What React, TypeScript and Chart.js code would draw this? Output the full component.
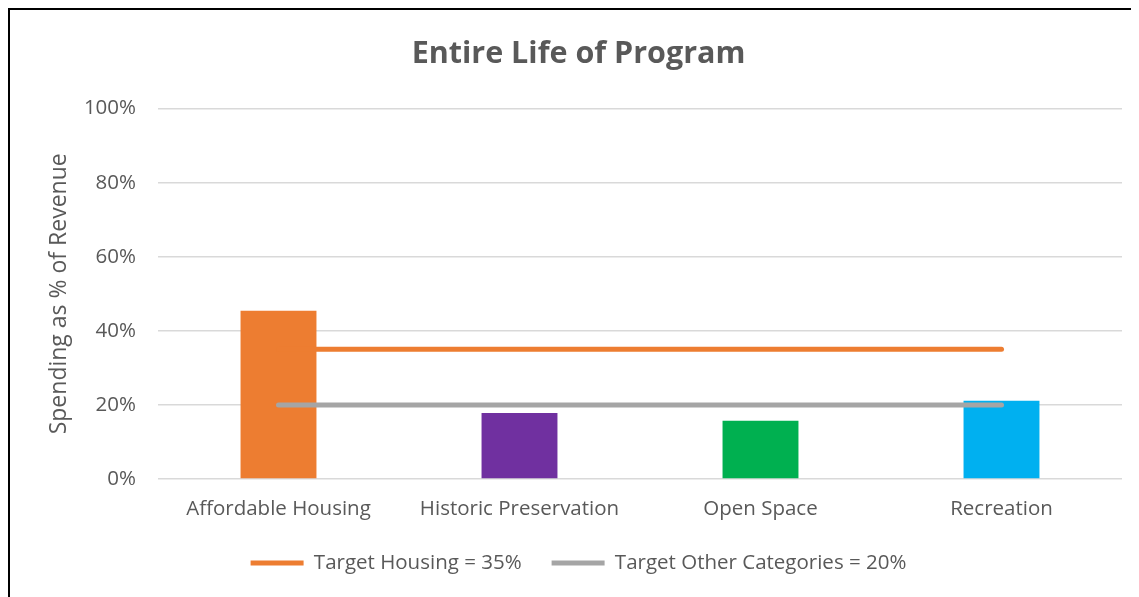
import React, { useEffect, useRef } from "react";
import { Chart, registerables } from "chart.js";

Chart.register(...registerables);

const categories = ["Affordable Housing", "Historic Preservation", "Open Space", "Recreation"];
const spending = [45.4, 17.8, 15.7, 21.1];
const barColors = ["#ED7D31", "#7030A0", "#00B050", "#00B0F0"];
const targetHousing = [35, 35, 35, 35];
const targetOther = [20, 20, 20, 20];
const titleText = "Entire Life of Program";
const yTitle = "Spending as % of Revenue";
const housingLabel = "Target Housing = 35%";
const otherLabel = "Target Other Categories = 20%";

const FONT = "'Open Sans', sans-serif";
const TEXT = "#595959";

export default function App() {
  const ref = useRef<HTMLCanvasElement>(null);
  useEffect(() => {
    if (!ref.current) return;
    const chart = new Chart(ref.current, {
      type: "bar",
      data: {
        labels: categories,
        datasets: [
          {
            type: "line",
            label: housingLabel,
            data: targetHousing,
            borderColor: "#ED7D31",
            backgroundColor: "#ED7D31",
            borderWidth: 5,
            borderCapStyle: "round",
            pointRadius: 0,
            order: 0,
          } as any,
          {
            type: "line",
            label: otherLabel,
            data: targetOther,
            borderColor: "#A5A5A5",
            backgroundColor: "#A5A5A5",
            borderWidth: 5,
            borderCapStyle: "round",
            pointRadius: 0,
            order: 0,
          } as any,
          {
            type: "bar",
            label: "Spending",
            data: spending,
            backgroundColor: barColors,
            categoryPercentage: 1,
            barPercentage: 0.315,
            order: 1,
          },
        ],
      },
      options: {
        animation: false,
        responsive: false,
        maintainAspectRatio: false,
        layout: { padding: { left: 25, right: 17, top: 0, bottom: 13.75 } },
        plugins: {
          tooltip: { enabled: false },
          title: {
            display: true,
            text: titleText,
            color: TEXT,
            font: { family: FONT, size: 30.5, weight: "bold" },
            padding: { top: 26, bottom: 36 },
          },
          legend: {
            position: "bottom",
            labels: {
              color: TEXT,
              font: { family: FONT, size: 20.5 },
              usePointStyle: true,
              pointStyle: "line",
              pointStyleWidth: 53,
              boxHeight: 20.5,
              padding: 30,
              filter: (item: any) => item.datasetIndex !== 2,
            },
          },
        },
        scales: {
          x: {
            afterFit: (s: any) => {
              s.height = 43.75;
            },
            grid: { display: false, drawTicks: false },
            border: { display: false },
            ticks: { color: TEXT, font: { family: FONT, size: 20.5 }, padding: 18 },
          },
          y: {
            min: 0,
            max: 100,
            afterFit: (s: any) => {
              s.width = 123;
            },
            ticks: {
              stepSize: 20,
              color: TEXT,
              font: { family: FONT, size: 20.5 },
              padding: 22,
              callback: (v: any) => v + "%",
            },
            grid: { color: "#D9D9D9", lineWidth: 1.5, drawTicks: false },
            border: { display: false },
            title: {
              display: true,
              text: yTitle,
              color: TEXT,
              font: { family: FONT, size: 23 },
              padding: { top: 11, bottom: 0 },
            },
          },
        },
      },
    });
    return () => chart.destroy();
  }, []);

  return (
    <div
      style={{
        width: 1131,
        height: 589,
        boxSizing: "border-box",
        borderTop: "2px solid #000",
        borderLeft: "2px solid #000",
        overflow: "hidden",
        background: "#fff",
      }}
    >
      <canvas ref={ref} width={1129} height={587} style={{ display: "block" }} />
    </div>
  );
}
